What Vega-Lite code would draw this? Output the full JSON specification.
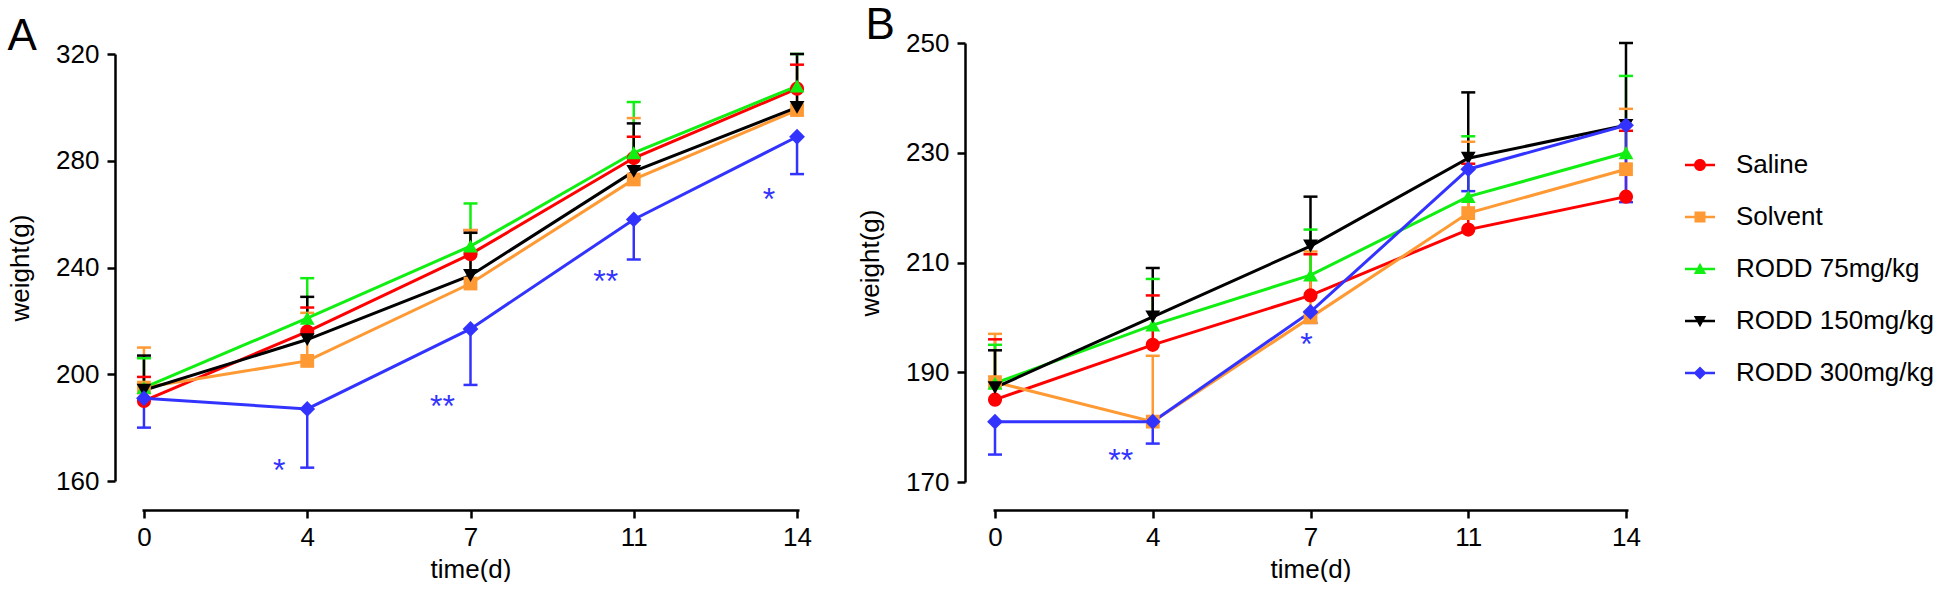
{
  "$schema": "https://vega.github.io/schema/vega-lite/v6.json",
  "background": "white",
  "padding": {"left": 7, "top": 4, "right": 0, "bottom": 0},
  "config": {
    "view": {"stroke": null},
    "font": "Liberation Sans",
    "axis": {
      "domainColor": "black", "domainWidth": 2.5, "tickColor": "black", "tickWidth": 2.5, "tickSize": 8,
      "labelFont": "Liberation Sans", "labelFontSize": 26, "labelColor": "black", "labelPadding": 8,
      "titleFont": "Liberation Sans", "titleFontSize": 26, "titleFontWeight": "normal", "titleColor": "black",
      "grid": false
    },
    "title": {"font": "Liberation Sans", "fontSize": 44, "fontWeight": "normal", "color": "black", "anchor": "start", "frame": "bounds"}
  },
  "datasets": {
    "weights": [
      {"panel": "A", "series": "Saline", "day": 0, "mean": 190, "err": 199},
      {"panel": "A", "series": "Saline", "day": 4, "mean": 216, "err": 225},
      {"panel": "A", "series": "Saline", "day": 7, "mean": 245, "err": 254},
      {"panel": "A", "series": "Saline", "day": 11, "mean": 281, "err": 289},
      {"panel": "A", "series": "Saline", "day": 14, "mean": 307, "err": 316},
      {"panel": "A", "series": "Solvent", "day": 0, "mean": 195, "err": 210},
      {"panel": "A", "series": "Solvent", "day": 4, "mean": 205, "err": 223},
      {"panel": "A", "series": "Solvent", "day": 7, "mean": 234, "err": 254},
      {"panel": "A", "series": "Solvent", "day": 11, "mean": 273, "err": 296},
      {"panel": "A", "series": "Solvent", "day": 14, "mean": 299, "err": 307},
      {"panel": "A", "series": "RODD 75mg/kg", "day": 0, "mean": 195, "err": 206},
      {"panel": "A", "series": "RODD 75mg/kg", "day": 4, "mean": 221, "err": 236},
      {"panel": "A", "series": "RODD 75mg/kg", "day": 7, "mean": 248, "err": 264},
      {"panel": "A", "series": "RODD 75mg/kg", "day": 11, "mean": 283, "err": 302},
      {"panel": "A", "series": "RODD 75mg/kg", "day": 14, "mean": 308, "err": 320},
      {"panel": "A", "series": "RODD 150mg/kg", "day": 0, "mean": 194, "err": 207},
      {"panel": "A", "series": "RODD 150mg/kg", "day": 4, "mean": 213, "err": 229},
      {"panel": "A", "series": "RODD 150mg/kg", "day": 7, "mean": 237, "err": 253},
      {"panel": "A", "series": "RODD 150mg/kg", "day": 11, "mean": 276, "err": 294},
      {"panel": "A", "series": "RODD 150mg/kg", "day": 14, "mean": 300, "err": 320},
      {"panel": "A", "series": "RODD 300mg/kg", "day": 0, "mean": 191, "err": 180},
      {"panel": "A", "series": "RODD 300mg/kg", "day": 4, "mean": 187, "err": 165},
      {"panel": "A", "series": "RODD 300mg/kg", "day": 7, "mean": 217, "err": 196},
      {"panel": "A", "series": "RODD 300mg/kg", "day": 11, "mean": 258, "err": 243},
      {"panel": "A", "series": "RODD 300mg/kg", "day": 14, "mean": 289, "err": 275},
      {"panel": "B", "series": "Saline", "day": 0, "mean": 185, "err": 196},
      {"panel": "B", "series": "Saline", "day": 4, "mean": 195, "err": 204},
      {"panel": "B", "series": "Saline", "day": 7, "mean": 204, "err": 211.5},
      {"panel": "B", "series": "Saline", "day": 11, "mean": 216, "err": 228},
      {"panel": "B", "series": "Saline", "day": 14, "mean": 222, "err": 234},
      {"panel": "B", "series": "Solvent", "day": 0, "mean": 188.2, "err": 197},
      {"panel": "B", "series": "Solvent", "day": 4, "mean": 181, "err": 193},
      {"panel": "B", "series": "Solvent", "day": 7, "mean": 200, "err": 212},
      {"panel": "B", "series": "Solvent", "day": 11, "mean": 219, "err": 232},
      {"panel": "B", "series": "Solvent", "day": 14, "mean": 227, "err": 238},
      {"panel": "B", "series": "RODD 75mg/kg", "day": 0, "mean": 188, "err": 195},
      {"panel": "B", "series": "RODD 75mg/kg", "day": 4, "mean": 198.6, "err": 207},
      {"panel": "B", "series": "RODD 75mg/kg", "day": 7, "mean": 207.7, "err": 216},
      {"panel": "B", "series": "RODD 75mg/kg", "day": 11, "mean": 222, "err": 233},
      {"panel": "B", "series": "RODD 75mg/kg", "day": 14, "mean": 230, "err": 244},
      {"panel": "B", "series": "RODD 150mg/kg", "day": 0, "mean": 187.2, "err": 194},
      {"panel": "B", "series": "RODD 150mg/kg", "day": 4, "mean": 200.1, "err": 209},
      {"panel": "B", "series": "RODD 150mg/kg", "day": 7, "mean": 213, "err": 222},
      {"panel": "B", "series": "RODD 150mg/kg", "day": 11, "mean": 229, "err": 241},
      {"panel": "B", "series": "RODD 150mg/kg", "day": 14, "mean": 235, "err": 250},
      {"panel": "B", "series": "RODD 300mg/kg", "day": 0, "mean": 181, "err": 175},
      {"panel": "B", "series": "RODD 300mg/kg", "day": 4, "mean": 181, "err": 177},
      {"panel": "B", "series": "RODD 300mg/kg", "day": 7, "mean": 201, "err": 199},
      {"panel": "B", "series": "RODD 300mg/kg", "day": 11, "mean": 227, "err": 223},
      {"panel": "B", "series": "RODD 300mg/kg", "day": 14, "mean": 235, "err": 221}
    ],
    "stars": [
      {"panel": "A", "day": 4, "label": "*", "value": 166},
      {"panel": "A", "day": 7, "label": "**", "value": 190},
      {"panel": "A", "day": 11, "label": "**", "value": 237},
      {"panel": "A", "day": 14, "label": "*", "value": 267.5},
      {"panel": "B", "day": 4, "label": "**", "value": 175},
      {"panel": "B", "day": 7, "label": "*", "value": 196}
    ]
  },
  "spacing": 45,
  "resolve": {"legend": {"color": "independent", "shape": "independent"}},
  "hconcat": [
    {
      "width": 657,
      "height": 439,
      "title": {"text": "A", "offset": -18},
      "data": {"name": "weights"},
      "transform": [{"filter": "datum.panel == 'A'"}],
      "encoding": {
        "x": {"field": "day", "type": "ordinal", "title": "time(d)",
              "scale": {"type": "point", "padding": 0.012},
              "axis": {"labelAngle": 0, "offset": 28, "labelPadding": 6, "titlePadding": 6}}
      },
      "layer": [
        {
          "mark": {"type": "rule", "strokeWidth": 2.5},
          "encoding": {
            "y": {"field": "mean", "type": "quantitative", "title": "weight(g)",
                  "scale": {"domain": [160, 320], "range": [438, 11], "nice": false, "zero": false},
                  "axis": {"values": [160, 200, 240, 280, 320], "offset": 27, "titlePadding": 22}},
            "y2": {"field": "err"},
            "stroke": {"field": "series", "type": "nominal", "legend": null,
                      "scale": {"domain": ["Saline", "Solvent", "RODD 75mg/kg", "RODD 150mg/kg", "RODD 300mg/kg"],
                                "range": ["#ff0000", "#ff9933", "#11ee11", "#000000", "#3333ff"]}}
          }
        },
        {
          "mark": {"type": "tick", "orient": "horizontal", "size": 14, "thickness": 2.5, "opacity": 1},
          "encoding": {
            "y": {"field": "err", "type": "quantitative", "title": "weight(g)"},
            "fill": {"field": "series", "type": "nominal", "legend": null,
                      "scale": {"domain": ["Saline", "Solvent", "RODD 75mg/kg", "RODD 150mg/kg", "RODD 300mg/kg"],
                                "range": ["#ff0000", "#ff9933", "#11ee11", "#000000", "#3333ff"]}}
          }
        },
        {
          "mark": {"type": "line", "strokeWidth": 3},
          "encoding": {
            "y": {"field": "mean", "type": "quantitative", "title": "weight(g)"},
            "stroke": {"field": "series", "type": "nominal", "legend": null}
          }
        },
        {
          "transform": [{"filter": "datum.series == 'Saline'"}],
          "mark": {"type": "point", "shape": "circle", "filled": true, "size": 200, "opacity": 1},
          "encoding": {"y": {"field": "mean", "type": "quantitative", "title": "weight(g)"}, "fill": {"field": "series", "type": "nominal", "legend": null}}
        },
        {
          "transform": [{"filter": "datum.series == 'Solvent'"}],
          "mark": {"type": "point", "shape": "square", "filled": true, "size": 190, "opacity": 1},
          "encoding": {"y": {"field": "mean", "type": "quantitative", "title": "weight(g)"}, "fill": {"field": "series", "type": "nominal", "legend": null}}
        },
        {
          "transform": [{"filter": "datum.series == 'RODD 75mg/kg'"}],
          "mark": {"type": "point", "shape": "triangle-up", "filled": true, "size": 220, "opacity": 1},
          "encoding": {"y": {"field": "mean", "type": "quantitative", "title": "weight(g)"}, "fill": {"field": "series", "type": "nominal", "legend": null}}
        },
        {
          "transform": [{"filter": "datum.series == 'RODD 150mg/kg'"}],
          "mark": {"type": "point", "shape": "triangle-down", "filled": true, "size": 220, "opacity": 1},
          "encoding": {"y": {"field": "mean", "type": "quantitative", "title": "weight(g)"}, "fill": {"field": "series", "type": "nominal", "legend": null}}
        },
        {
          "transform": [{"filter": "datum.series == 'RODD 300mg/kg'"}],
          "mark": {"type": "point", "shape": "diamond", "filled": true, "size": 250, "opacity": 1},
          "encoding": {"y": {"field": "mean", "type": "quantitative", "title": "weight(g)"}, "fill": {"field": "series", "type": "nominal", "legend": null}}
        },
        {
          "data": {"name": "stars"},
          "transform": [{"filter": "datum.panel == 'A'"}],
          "mark": {"type": "text", "color": "#3333ff", "fontSize": 32, "font": "Liberation Sans", "dx": -28, "dy": 16, "baseline": "alphabetic", "align": "center"},
          "encoding": {
            "x": {"field": "day", "type": "ordinal", "title": "time(d)"},
            "y": {"field": "value", "type": "quantitative", "title": "weight(g)"},
            "text": {"field": "label"}
          }
        }
      ]
    },
    {
      "width": 635,
      "height": 439,
      "title": {"text": "B", "offset": -18, "dx": 8},
      "data": {"name": "weights"},
      "transform": [{"filter": "datum.panel == 'B'"}],
      "encoding": {
        "x": {"field": "day", "type": "ordinal", "title": "time(d)",
              "scale": {"type": "point", "padding": 0.0127},
              "axis": {"labelAngle": 0, "offset": 28, "labelPadding": 6, "titlePadding": 6}}
      },
      "layer": [
        {
          "mark": {"type": "rule", "strokeWidth": 2.5},
          "encoding": {
            "y": {"field": "mean", "type": "quantitative", "title": "weight(g)",
                  "scale": {"domain": [170, 250], "nice": false, "zero": false},
                  "axis": {"values": [170, 190, 210, 230, 250], "offset": 28, "titlePadding": 22}},
            "y2": {"field": "err"},
            "stroke": {"field": "series", "type": "nominal", "legend": null}
          }
        },
        {
          "mark": {"type": "tick", "orient": "horizontal", "size": 14, "thickness": 2.5, "opacity": 1},
          "encoding": {
            "y": {"field": "err", "type": "quantitative", "title": "weight(g)"},
            "fill": {"field": "series", "type": "nominal", "legend": null}
          }
        },
        {
          "mark": {"type": "line", "strokeWidth": 3},
          "encoding": {
            "y": {"field": "mean", "type": "quantitative", "title": "weight(g)"},
            "stroke": {"field": "series", "type": "nominal", "legend": null}
          }
        },
        {
          "transform": [{"filter": "datum.series == 'Saline'"}],
          "mark": {"type": "point", "shape": "circle", "filled": true, "size": 200, "opacity": 1},
          "encoding": {"y": {"field": "mean", "type": "quantitative", "title": "weight(g)"}, "fill": {"field": "series", "type": "nominal", "legend": null}}
        },
        {
          "transform": [{"filter": "datum.series == 'Solvent'"}],
          "mark": {"type": "point", "shape": "square", "filled": true, "size": 190, "opacity": 1},
          "encoding": {"y": {"field": "mean", "type": "quantitative", "title": "weight(g)"}, "fill": {"field": "series", "type": "nominal", "legend": null}}
        },
        {
          "transform": [{"filter": "datum.series == 'RODD 75mg/kg'"}],
          "mark": {"type": "point", "shape": "triangle-up", "filled": true, "size": 220, "opacity": 1},
          "encoding": {"y": {"field": "mean", "type": "quantitative", "title": "weight(g)"}, "fill": {"field": "series", "type": "nominal", "legend": null}}
        },
        {
          "transform": [{"filter": "datum.series == 'RODD 150mg/kg'"}],
          "mark": {"type": "point", "shape": "triangle-down", "filled": true, "size": 220, "opacity": 1},
          "encoding": {"y": {"field": "mean", "type": "quantitative", "title": "weight(g)"}, "fill": {"field": "series", "type": "nominal", "legend": null}}
        },
        {
          "transform": [{"filter": "datum.series == 'RODD 300mg/kg'"}],
          "mark": {"type": "point", "shape": "diamond", "filled": true, "size": 250, "opacity": 1},
          "encoding": {"y": {"field": "mean", "type": "quantitative", "title": "weight(g)"}, "fill": {"field": "series", "type": "nominal", "legend": null}}
        },
        {
          "data": {"name": "stars"},
          "transform": [{"filter": "datum.panel == 'B' && datum.day == 4"}],
          "mark": {"type": "text", "color": "#3333ff", "fontSize": 32, "font": "Liberation Sans", "dx": -32, "dy": 16, "baseline": "alphabetic", "align": "center"},
          "encoding": {
            "x": {"field": "day", "type": "ordinal", "title": "time(d)"},
            "y": {"field": "value", "type": "quantitative", "title": "weight(g)"},
            "text": {"field": "label"}
          }
        },
        {
          "data": {"name": "stars"},
          "transform": [{"filter": "datum.panel == 'B' && datum.day == 7"}],
          "mark": {"type": "text", "color": "#3333ff", "fontSize": 32, "font": "Liberation Sans", "dx": -4, "dy": 16, "baseline": "alphabetic", "align": "center"},
          "encoding": {
            "x": {"field": "day", "type": "ordinal", "title": "time(d)"},
            "y": {"field": "value", "type": "quantitative", "title": "weight(g)"},
            "text": {"field": "label"}
          }
        },
        {
          "transform": [{"filter": "datum.day == 0"}],
          "mark": {"type": "point", "filled": true, "opacity": 0},
          "encoding": {
            "y": {"field": "mean", "type": "quantitative", "title": "weight(g)"},
            "color": {"field": "series", "type": "nominal",
                      "scale": {"domain": ["Saline", "Solvent", "RODD 75mg/kg", "RODD 150mg/kg", "RODD 300mg/kg"],
                                "range": ["#ff0000", "#ff9933", "#11ee11", "#000000", "#3333ff"]},
                      "legend": {"orient": "none", "legendX": 694, "legendY": 109, "title": null,
                                 "labelFontSize": 26, "labelFont": "Liberation Sans", "labelColor": "black", "labelLimit": 400,
                                 "symbolSize": 400, "rowPadding": 26, "labelOffset": 23, "padding": 0,
                                 "symbolStrokeWidth": 0, "symbolOpacity": 1}},
            "shape": {"field": "series", "type": "nominal",
                      "scale": {"domain": ["Saline", "Solvent", "RODD 75mg/kg", "RODD 150mg/kg", "RODD 300mg/kg"],
                                "range": [
                                  "M-1.5,-0.12H1.5V0.12H-1.5Z M0.6,0A0.6,0.6 0 1,1 -0.6,0A0.6,0.6 0 1,1 0.6,0Z",
                                  "M-1.5,-0.12H1.5V0.12H-1.5Z M-0.55,-0.55H0.55V0.55H-0.55Z",
                                  "M-1.5,-0.12H1.5V0.12H-1.5Z M0,-0.62L0.62,0.5L-0.62,0.5Z",
                                  "M-1.5,-0.12H1.5V0.12H-1.5Z M-0.62,-0.5L0.62,-0.5L0,0.62Z",
                                  "M-1.5,-0.12H1.5V0.12H-1.5Z M0,-0.65L0.65,0L0,0.65L-0.65,0Z"
                                ]},
                      "legend": {"orient": "none", "legendX": 694, "legendY": 109, "title": null,
                                 "labelFontSize": 26, "labelFont": "Liberation Sans", "labelColor": "black", "labelLimit": 400,
                                 "symbolSize": 400, "rowPadding": 26, "labelOffset": 23, "padding": 0,
                                 "symbolStrokeWidth": 0, "symbolOpacity": 1}}
          }
        }
      ]
    }
  ]
}
